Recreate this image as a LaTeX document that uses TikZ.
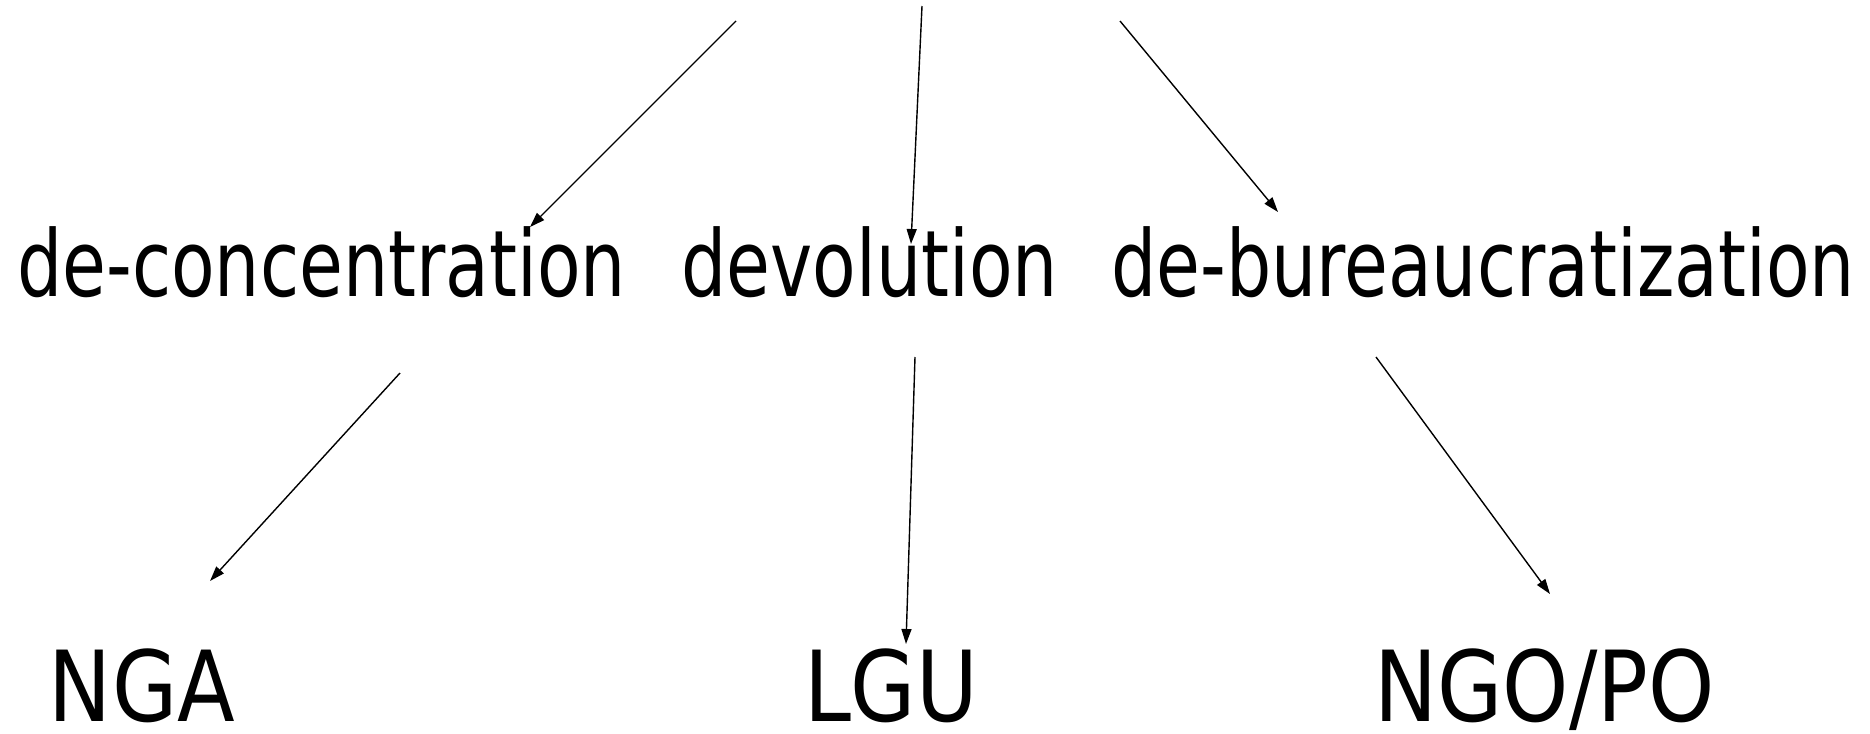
\documentclass[tikz,border=0pt]{standalone}
\usepackage{fontspec}
\setmainfont{DejaVu Sans}
\newfontfamily\topfont[FakeStretch=0.775]{DejaVu Sans}
\newfontfamily\botfont[FakeStretch=0.86]{DejaVu Sans}
\usetikzlibrary{arrows.meta}
\begin{document}
\begin{tikzpicture}[x=0.5pt,y=-0.5pt,
  toplabel/.style={anchor=base,inner sep=0pt,font=\topfont\fontsize{46pt}{50pt}\selectfont},
  botlabel/.style={anchor=base,inner sep=0pt,font=\botfont\fontsize{49pt}{55pt}\selectfont},
  arr/.style={line width=0.7pt,-{Triangle[length=7.5pt,width=5pt]}}]
\useasboundingbox (0,0) rectangle (1870,734);
\node[toplabel] (dc) at (321.5,296) {de-concentration};
\node[toplabel] (dv) at (869.5,296) {devolution};
\node[toplabel] (db) at (1483,296) {de-bureaucratization};
\node[botlabel] (nga) at (142,721) {NGA};
\node[botlabel] (lgu) at (891,721) {LGU};
\node[botlabel] (ngo) at (1544.5,721) {NGO/PO};
\coordinate (s1) at (736,21);
\coordinate (e1) at (530,227);
\coordinate (s2) at (922,6);
\coordinate (e2) at (911,244);
\coordinate (s3) at (1120,21);
\coordinate (e3) at (1278,212);
\coordinate (s4) at (400,373);
\coordinate (e4) at (210,581);
\coordinate (s5) at (915,357);
\coordinate (e5) at (906,644);
\coordinate (s6) at (1376,357);
\coordinate (e6) at (1550,594);
\draw[arr] (s1) -- (e1);
\draw[arr] (s2) -- (e2);
\draw[arr] (s3) -- (e3);
\draw[arr] (s4) -- (e4);
\draw[arr] (s5) -- (e5);
\draw[arr] (s6) -- (e6);
\end{tikzpicture}
\end{document}
